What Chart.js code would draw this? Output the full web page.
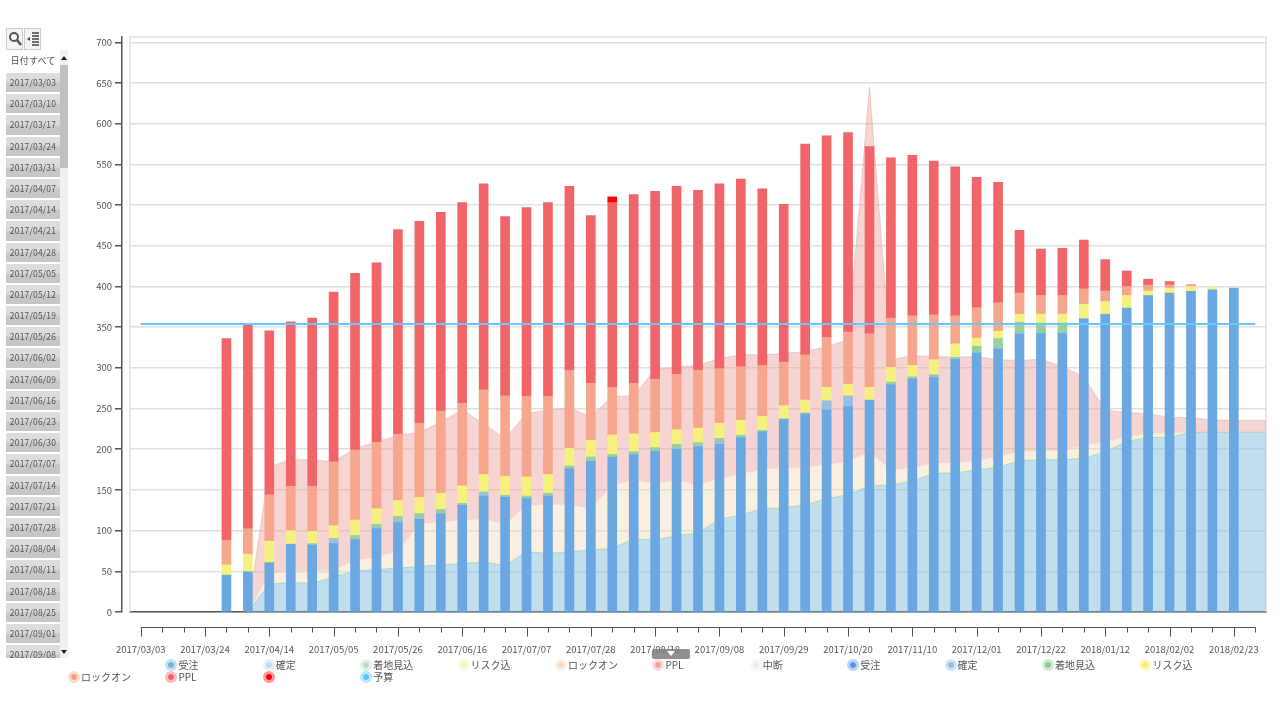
<!DOCTYPE html>
<html>
<head>
<meta charset="utf-8">
<title>chart</title>
<script src="https://cdn.jsdelivr.net/npm/chart.js@4/dist/chart.umd.min.js"></script>
<style>
  html, body { margin: 0; padding: 0; background: #fff; width: 1280px; height: 720px; overflow: hidden; }
  body { font-family: "Noto Sans CJK JP", "DejaVu Sans", sans-serif; color: #555; filter: blur(0.35px); }
  #chart { position: absolute; left: 0; top: 0; }
  #toolbar button { position: absolute; top: 28px; width: 17px; height: 22px; padding: 0; background: #f4f4f4; border: 1px solid #ccc; }
  #toolbar svg { display: block; margin: auto; }
  #slicer { position: absolute; left: 6px; top: 50px; width: 54px; height: 608px; overflow: hidden; }
  #slicer div { height: 19.2px; line-height: 19px; margin-bottom: 2px; text-align: center; font-size: 8.5px; letter-spacing: .2px;
    background: linear-gradient(#dedede 0, #dadada 45%, #c8c8c8 55%, #c6c6c6 100%); }
  #slicer div.all { background: #fff; height: 21px; line-height: 21px; font-size: 9px; }
  #scroll { position: absolute; left: 60px; top: 50px; width: 8px; height: 608px; background: #f0f0f0; }
  #thumb { position: absolute; left: 0; top: 15px; width: 8px; height: 103px; background: #c0c0c0; }
  .arrow { position: absolute; left: 1px; width: 0; height: 0; border-left: 3px solid transparent; border-right: 3px solid transparent; }
  #handle { position: absolute; left: 652px; top: 649px; width: 38px; height: 10px; background: rgba(125,125,125,.85); border-radius: 2px; }
  #handle i { position: absolute; left: 15px; top: 2px; width: 0; height: 0; border-left: 4px solid transparent; border-right: 4px solid transparent; border-top: 5px solid #fff; }
  .lg { position: absolute; font-size: 10px; line-height: 12px; white-space: nowrap; }
  .lg b { position: absolute; left: -13px; top: 0; width: 6px; height: 6px; border-radius: 50%; border: 3px solid; background-clip: padding-box !important; }
</style>
</head>
<body>
<canvas id="chart" width="1280" height="720"></canvas>
<div id="toolbar">
  <button style="left:6px"><svg width="14" height="16" viewBox="0 0 14 16"><circle cx="6" cy="6" r="4" fill="#fff" stroke="#555" stroke-width="2"/><line x1="9" y1="9" x2="13" y2="14" stroke="#555" stroke-width="2.5"/></svg></button>
  <button style="left:24px"><svg width="14" height="16" viewBox="0 0 14 16"><path d="M1 8l3-2v4z" fill="#444"/><path d="M6 2h7M6 5h7M6 8h7M6 11h7M6 14h7" stroke="#444" stroke-width="1.3"/></svg></button>
</div>
<div id="slicer"></div>
<div id="scroll">
  <div id="thumb"></div>
  <span class="arrow" style="top:6px;border-bottom:4px solid #222"></span>
  <span class="arrow" style="top:600px;border-top:4px solid #222"></span>
</div>
<div id="handle"><i></i></div>
<div id="legend"></div>
<script>
const weeks = [
  '2017/03/03','2017/03/10','2017/03/17','2017/03/24','2017/03/31','2017/04/07','2017/04/14','2017/04/21','2017/04/28',
  '2017/05/05','2017/05/12','2017/05/19','2017/05/26','2017/06/02','2017/06/09','2017/06/16','2017/06/23','2017/06/30',
  '2017/07/07','2017/07/14','2017/07/21','2017/07/28','2017/08/04','2017/08/11','2017/08/18','2017/08/25','2017/09/01',
  '2017/09/08','2017/09/15','2017/09/22','2017/09/29','2017/10/06','2017/10/13','2017/10/20','2017/10/27','2017/11/03',
  '2017/11/10','2017/11/17','2017/11/24','2017/12/01','2017/12/08','2017/12/15','2017/12/22','2017/12/29','2018/01/05',
  '2018/01/12','2018/01/19','2018/01/26','2018/02/02','2018/02/09','2018/02/16','2018/02/23','2018/03/02'
];

// bars, stacked segments
const barJuchu = [0,0,0,0,45,49,60,83,82,84,89,102.5,110,114,120.5,131,142.5,141,139.5,142.5,176,185,190,193.5,197.5,200,203,206,214,221.5,236.5,243.5,248,252.5,260,279,286.5,288,310.5,318,323,341.5,342,342,360,365.5,373,388.5,391.5,394,396,398,0];
const barKakutei = [0,0,0,0,0,0,0,0,1,5,0,1,3,2,0.5,0.5,3,0.5,0.5,0.5,0.5,0.5,0.5,0.5,0.5,0.5,1,3,0.5,0.5,0.5,0.5,11,12.5,0.5,0.5,0.5,3,0.5,0.5,0.5,2,1,1,0.5,0.5,0.5,0.5,0,0,0,0,0];
const barChakuchi = [0,0,0,0,0.5,0.5,1,0.5,1,1.5,5,4.5,4.5,5,5,2,2,2,2.5,3,3,5,3,3,4,5.5,4,4.5,2.5,1,0.5,0.5,0.5,0.5,0,3,2,0.5,2,8,12.5,12.5,12,12,0,0,0,0,0.5,0,0,0,0];
const barRisk = [0,0,0,0,12.5,21.5,26,16.5,15,15.5,19,19,19.5,20,20,21.5,21.5,23,23.5,23,21.5,20.5,24,22,18.5,18,18,18.5,18.5,17.5,16,16,16.5,14.5,15.5,18,14,18.5,16.5,10,9,10,11,11,17.5,15.5,15.5,5.5,6,6,3,0,0];
const barLockon = [0,0,0,0,30,31.5,57,54.5,55.5,78.5,86,81.5,81.5,91,101,101.5,104,99,99,96,96,70,58.5,62,65.5,68,71,67,66,62.5,53.5,55.5,61.5,64,66,60.5,61,55,34.5,37.5,35,26,23,23,19,13,11,7,4,1.5,0,0,0];
const barPpl = [0,0,0,0,248,250.5,201.5,202,206.5,208.5,217,220.5,251.5,248,244,246.5,253,220.5,232,238,226,206,227,232,231,231,221,227,230.5,217,194,259,247.5,245,230,197,197,189,183,160,148,77,57,58,60,38.5,19,7.5,4,0.5,0,0,0];
const barRed = [0,0,0,0,0,0,0,0,0,0,0,0,0,0,0,0,0,0,0,0,0,0,7,0,0,0,0,0,0,0,0,0,0,0,0,0,0,0,0,0,0,0,0,0,0,0,0,0,0,0,0,0,0];

// areas behind the bars, running totals
const areaJuchu = [null,null,null,null,null,0,34,36.5,35,43,50.5,52,54,56,58,59.5,61.5,57,74,72,74,76.5,78,90,88,94,97,114,119,127,128,131.5,139,144,155,156,161,170.5,171,174.5,178,186,187,187,189,197,209.5,214.5,214.5,221,221,221,221];
const areaRisk = [null,null,null,null,null,0,36,38,36.5,45,52,53,55,57,59,60.5,63,58.5,75,73,75.5,78,79.5,92,89,95.5,99,115.5,120,128.5,129.5,133,140.5,146,157,158,163,173,174,177,181,189,190,190,193,199,212,218,218,221,221,221,221];
const areaLockon = [null,null,null,null,null,0,47,51,50,52,63.5,67.5,75,108,110.5,113.5,114,108,131,132,132,127,156,162,158,162,156,164,170,175.5,177,178,181,185,197,174.5,177.5,183,183.5,186,191,197,198,199,204.5,209,215,219.5,220.5,221,221,221,221];
const areaPpl = [null,null,null,null,null,0,178,187.5,187,184.5,201,209,217,221,233.5,248,231.5,213,244,248,251,240,265,265.5,298,301,303,311.5,316,316,317.5,320,326,334.5,645,310,315,314,313,314,310,309,310.5,301.5,289,248,245,244,239,239,236,235.5,235.5];

const budget = [354,354,354,354,354,354,354,354,354,354,354,354,354,354,354,354,354,354,354,354,354,354,354,354,354,354,354,354,354,354,354,354,354,354,354,354,354,354,354,354,354,354,354,354,354,354,354,354,354,354,354,354,354];

const legendLabels = ['', '受注', '確定', '着地見込', 'リスク込', 'ロックオン', 'PPL', '中断', '受注', '確定', '着地見込', 'リスク込', 'ロックオン', 'PPL', '', '予算'];
const legendColors = ['', '#6fb3dc', '#bcdcec', '#b8dcc0', '#f6f3bd', '#f8d8b8', '#f0a0a0', '#ebebeb', '#4f96e0', '#8fbcec', '#82cf8c', '#f5ee6c', '#f5a083', '#f0606a', '#ff0000', '#55c4ff'];

const FONT = '"Noto Sans CJK JP", "DejaVu Sans", sans-serif';
const Y_MAX = 706.5;

function areaPoints(values) {
    const pts = values.map(function (v, i) { return { x: i, y: v }; });
    // the band runs on to the right edge of the plot
    pts.push({ x: values.length - 0.5, y: values[values.length - 1] });
    return pts;
}

function areaDataset(label, values, color, fill) {
    return {
        type: 'line', label: label, data: areaPoints(values), xAxisID: 'xArea', yAxisID: 'yArea',
        backgroundColor: color, borderColor: color, borderWidth: 1, pointRadius: 0, fill: fill, order: 3, tension: 0
    };
}

function barDataset(label, values, color) {
    return {
        type: 'bar', label: label, backgroundColor: color, barThickness: 9, grouped: false, order: 2,
        // empty weeks stay empty
        data: values.map(function (v) { return v === 0 ? null : v; })
    };
}

// frame of the plot, drawn under the marks
const plotFrame = {
    id: 'plotFrame',
    beforeDatasetsDraw: function (chart) {
        const a = chart.chartArea, ctx = chart.ctx;
        ctx.save();
        ctx.strokeStyle = '#e2e2e2';
        ctx.lineWidth = 1.5;
        ctx.beginPath();
        ctx.moveTo(a.left, a.bottom);
        ctx.lineTo(a.left, a.top);
        ctx.lineTo(a.right, a.top);
        ctx.lineTo(a.right, a.bottom);
        ctx.stroke();
        ctx.restore();
    }
};

// range axis under the plot, follows the x scale
const rangeAxis = {
    id: 'rangeAxis',
    afterDraw: function (chart) {
        const x = chart.scales.x, ctx = chart.ctx, top = 627.5;
        ctx.save();
        ctx.strokeStyle = '#555';
        ctx.lineWidth = 1;
        ctx.beginPath();
        ctx.moveTo(x.getPixelForValue(0), top);
        ctx.lineTo(x.getPixelForValue(weeks.length - 1), top);
        weeks.forEach(function (w, i) {
            const px = Math.round(x.getPixelForValue(i)) + 0.5;
            ctx.moveTo(px, top);
            ctx.lineTo(px, top + (i % 3 === 0 ? 9 : 5));
        });
        ctx.stroke();
        ctx.fillStyle = '#555';
        ctx.font = '9.5px ' + FONT;
        ctx.textAlign = 'center';
        ctx.textBaseline = 'middle';
        weeks.forEach(function (w, i) {
            if (i % 3 === 0 && i < weeks.length - 1) ctx.fillText(w, x.getPixelForValue(i), 649);
        });
        ctx.restore();
    }
};

new Chart(document.getElementById('chart'), {
    data: {
        labels: weeks,
        datasets: [
            areaDataset('受注', areaJuchu, 'rgba(130,190,220,0.5)', 'origin'),
            areaDataset('リスク込', areaRisk, 'rgba(245,240,170,0.6)', '-1'),
            areaDataset('ロックオン', areaLockon, 'rgba(245,215,180,0.4)', '-1'),
            areaDataset('PPL', areaPpl, 'rgba(232,160,155,0.45)', '-1'),
            barDataset('受注', barJuchu, '#6ba8e2'),
            barDataset('確定', barKakutei, '#96bfe8'),
            barDataset('着地見込', barChakuchi, '#97d09f'),
            barDataset('リスク込', barRisk, '#f5f17f'),
            barDataset('ロックオン', barLockon, '#f5a68c'),
            barDataset('PPL', barPpl, '#f16469'),
            barDataset('', barRed, '#ff0000'),
            {
                type: 'line', label: '予算', data: budget, yAxisID: 'yArea', borderColor: '#66c8fb',
                borderWidth: 2, pointRadius: 0, fill: false, order: 1
            }
        ]
    },
    options: {
        responsive: false,
        animation: false,
        devicePixelRatio: 1,
        layout: { padding: { left: 82, right: 14, top: 37, bottom: 108 } },
        plugins: { legend: { display: false }, tooltip: { enabled: false } },
        scales: {
            x: {
                stacked: true,
                z: 1,
                grid: { display: false },
                border: { color: '#555', width: 1.5 },
                ticks: { display: false },
                afterFit: function (s) { s.height = 0; }
            },
            xArea: { type: 'linear', display: false, min: -0.5, max: 52.5 },
            y: {
                position: 'left',
                stacked: true,
                weight: 1,
                min: 0,
                max: Y_MAX,
                grid: { color: '#e0e0e0', lineWidth: 1.5, tickColor: '#555', tickLength: 7 },
                border: { color: '#555', width: 1.5 },
                ticks: {
                    stepSize: 50, includeBounds: false, color: '#555', padding: 3,
                    font: { size: 9.5, family: FONT }
                },
                afterFit: function (s) { s.width = 40; }
            },
            // empty axis, keeps the gap between the y axis line and the plot
            yGap: {
                position: 'left',
                weight: 0,
                grid: { display: false },
                border: { display: false },
                ticks: { display: false },
                afterFit: function (s) { s.width = 8; }
            },
            yArea: { display: false, min: 0, max: Y_MAX }
        }
    },
    plugins: [plotFrame, rangeAxis]
});

// date slicer on the left
const slicer = document.getElementById('slicer');
['日付すべて'].concat(weeks.slice(0, 29)).forEach(function (text, i) {
    const d = document.createElement('div');
    d.textContent = text;
    if (i === 0) d.className = 'all';
    slicer.appendChild(d);
});

// legend: twelve columns, first cell empty
const legend = document.getElementById('legend');
legendColors.forEach(function (color, i) {
    if (!color) return;
    const item = document.createElement('div');
    item.className = 'lg';
    item.style.left = (81 + 97.4 * (i % 12)) + 'px';
    item.style.top = (i < 12 ? 659 : 671) + 'px';
    item.textContent = legendLabels[i];
    const dot = document.createElement('b');
    dot.style.background = color;
    dot.style.borderColor = color + '66';
    item.appendChild(dot);
    legend.appendChild(item);
});
</script>
</body>
</html>
